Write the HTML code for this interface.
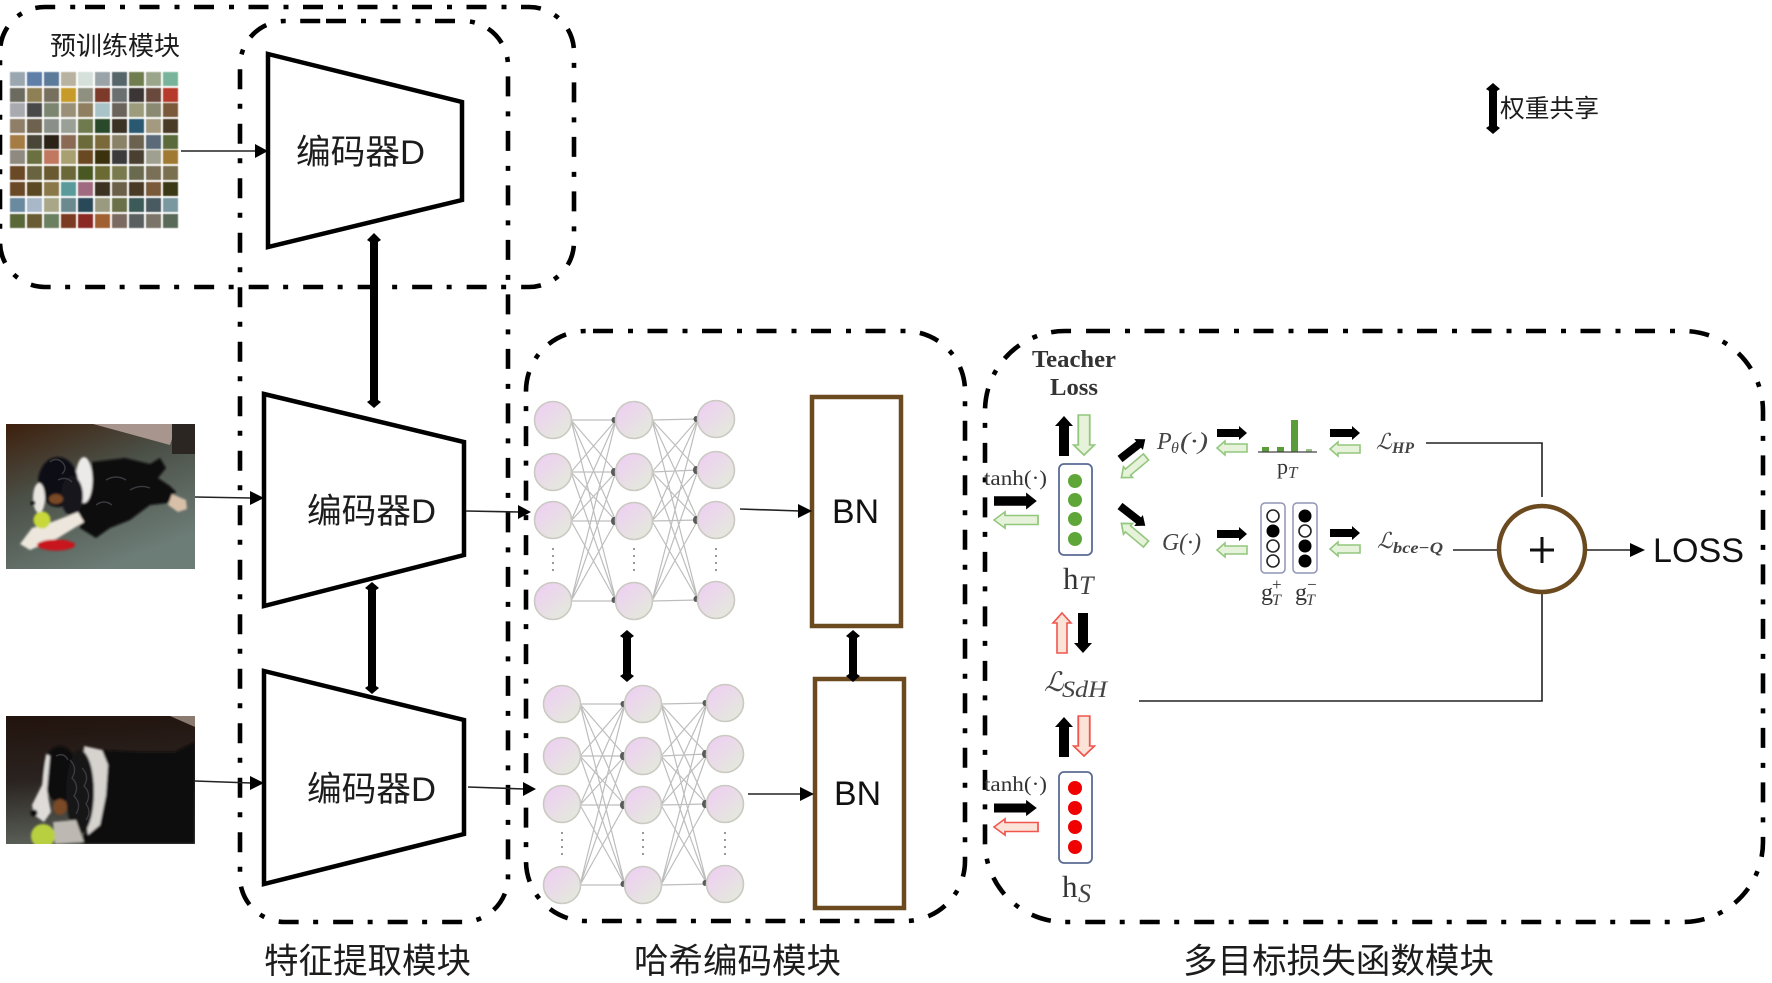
<!DOCTYPE html>
<html><head><meta charset="utf-8"><style>
html,body{margin:0;padding:0;background:#fff;width:1772px;height:983px;overflow:hidden}
svg{display:block}
.cjk{font-family:"Liberation Sans","Noto Sans CJK SC",sans-serif;fill:#1c1c1c}
.lat{font-family:"Liberation Sans",sans-serif;fill:#111}
.ser{font-family:"Liberation Serif","DejaVu Serif",serif;fill:#333}
.it{font-family:"Liberation Serif","DejaVu Serif",serif;font-style:italic;fill:#444}
.box{fill:none;stroke:#000;stroke-width:4.6;stroke-dasharray:20 15 5 14.5}
.enc{fill:#fff;stroke:#000;stroke-width:4.5;stroke-linejoin:miter}
.br{fill:#fff;stroke:#6b4a1f;stroke-width:4.5}
.ln{fill:none;stroke:#222;stroke-width:1.6}
.bk{fill:#000}
.gr{fill:#e6f2da;stroke:#93c77e;stroke-width:1.6}
.rd{fill:#fbe3d8;stroke:#f0564e;stroke-width:1.6}
.nb{fill:none;stroke:#5a6b93;stroke-width:1.8}
.gc{fill:#fff;stroke:#222;stroke-width:1.6}
</style></head><body>
<svg width="1772" height="983" viewBox="0 0 1772 983" xmlns="http://www.w3.org/2000/svg">
<defs>
<linearGradient id="c" x1="0.15" y1="0.1" x2="0.85" y2="0.9"><stop offset="0" stop-color="#eed0f2"/><stop offset="1" stop-color="#e4e9dc"/></linearGradient>
<linearGradient id="d1" x1="0" y1="0" x2="0.5" y2="1"><stop offset="0" stop-color="#3d1f0c"/><stop offset="0.45" stop-color="#4b5047"/><stop offset="1" stop-color="#6c7c76"/></linearGradient>
<linearGradient id="d2" x1="0.1" y1="0" x2="0.2" y2="1"><stop offset="0" stop-color="#22130d"/><stop offset="0.5" stop-color="#2a2320"/><stop offset="1" stop-color="#5a6058"/></linearGradient>
<filter id="b1" x="-5%" y="-5%" width="110%" height="110%"><feGaussianBlur stdDeviation="1"/></filter>
<filter id="b0" x="-2%" y="-2%" width="104%" height="104%"><feGaussianBlur stdDeviation="0.5"/></filter>
<clipPath id="cp1"><rect x="6" y="424" width="189" height="145"/></clipPath>
<clipPath id="cp2"><rect x="6" y="716" width="189" height="128"/></clipPath>
<path id="a40" d="M0 -5H30V-9L40 0L30 9V5H0Z"/>
<path id="a30" d="M0 -4H22V-7L30 0L22 7V4H0Z"/>
<g id="net">
<path d="M571 420L616 420M571 420L616 472M571 420L616 521M571 420L616 601M571 472L616 420M571 472L616 472M571 472L616 521M571 472L616 601M571 521L616 420M571 521L616 472M571 521L616 521M571 521L616 601M571 601L616 420M571 601L616 472M571 601L616 521M571 601L616 601M652 420L698 419M652 420L698 470M652 420L698 520M652 420L698 600M652 472L698 419M652 472L698 470M652 472L698 520M652 472L698 600M652 521L698 419M652 521L698 470M652 521L698 520M652 521L698 600M652 601L698 419M652 601L698 470M652 601L698 520M652 601L698 600" stroke="#bdbdbd" stroke-width="1.2" fill="none"/>
<g fill="#5a5a5a"><ellipse cx="614" cy="420" rx="2.5" ry="3"/><ellipse cx="614" cy="472" rx="3" ry="4"/><ellipse cx="614" cy="521" rx="3" ry="4"/><ellipse cx="614" cy="600" rx="2.5" ry="3"/><ellipse cx="696" cy="419" rx="2.5" ry="3"/><ellipse cx="696" cy="470" rx="3" ry="4"/><ellipse cx="696" cy="520" rx="3" ry="4"/><ellipse cx="696" cy="599" rx="2.5" ry="3"/></g>
<g fill="url(#c)" stroke="#cacac2" stroke-width="1.6">
<circle cx="553" cy="420" r="18.5"/><circle cx="553" cy="472" r="18.5"/><circle cx="553" cy="520" r="18.5"/><circle cx="553" cy="601" r="18.5"/>
<circle cx="634" cy="420" r="18.5"/><circle cx="634" cy="472" r="18.5"/><circle cx="634" cy="521" r="18.5"/><circle cx="634" cy="601" r="18.5"/>
<circle cx="716" cy="419" r="18.5"/><circle cx="716" cy="470" r="18.5"/><circle cx="716" cy="520" r="18.5"/><circle cx="716" cy="600" r="18.5"/>
</g>
<g fill="#999"><rect x="552" y="548" width="2" height="2"/><rect x="552" y="555" width="2" height="2"/><rect x="552" y="562" width="2" height="2"/><rect x="552" y="569" width="2" height="2"/><rect x="633" y="548" width="2" height="2"/><rect x="633" y="555" width="2" height="2"/><rect x="633" y="562" width="2" height="2"/><rect x="633" y="569" width="2" height="2"/><rect x="715" y="548" width="2" height="2"/><rect x="715" y="555" width="2" height="2"/><rect x="715" y="562" width="2" height="2"/><rect x="715" y="569" width="2" height="2"/></g>
</g>
</defs>

<!-- tile grid -->
<g filter="url(#b0)">
<rect x="10" y="72" width="15" height="14" fill="#9aa7b0"/><rect x="27" y="72" width="15" height="14" fill="#5f7fa8"/><rect x="44" y="72" width="15" height="14" fill="#5b7a9a"/><rect x="61" y="72" width="15" height="14" fill="#b8b3a0"/><rect x="78" y="72" width="15" height="14" fill="#d6e0da"/><rect x="95" y="72" width="15" height="14" fill="#9aa3a8"/><rect x="112" y="72" width="15" height="14" fill="#56666a"/><rect x="129" y="72" width="15" height="14" fill="#6f7d4f"/><rect x="146" y="72" width="15" height="14" fill="#9aa58a"/><rect x="163" y="72" width="15" height="14" fill="#78b49a"/>
<rect x="10" y="88" width="15" height="14" fill="#6d6a60"/><rect x="27" y="88" width="15" height="14" fill="#8f7f55"/><rect x="44" y="88" width="15" height="14" fill="#77705f"/><rect x="61" y="88" width="15" height="14" fill="#c69b2a"/><rect x="78" y="88" width="15" height="14" fill="#8f9080"/><rect x="95" y="88" width="15" height="14" fill="#7b3a2c"/><rect x="112" y="88" width="15" height="14" fill="#6b7070"/><rect x="129" y="88" width="15" height="14" fill="#3a3636"/><rect x="146" y="88" width="15" height="14" fill="#6a4a3c"/><rect x="163" y="88" width="15" height="14" fill="#b73a2a"/>
<rect x="10" y="103" width="15" height="14" fill="#a9a9b0"/><rect x="27" y="103" width="15" height="14" fill="#4a4a48"/><rect x="44" y="103" width="15" height="14" fill="#7c8570"/><rect x="61" y="103" width="15" height="14" fill="#9a9078"/><rect x="78" y="103" width="15" height="14" fill="#8f7f60"/><rect x="95" y="103" width="15" height="14" fill="#a8c4c8"/><rect x="112" y="103" width="15" height="14" fill="#6a645c"/><rect x="129" y="103" width="15" height="14" fill="#9c9c7c"/><rect x="146" y="103" width="15" height="14" fill="#8a8a72"/><rect x="163" y="103" width="15" height="14" fill="#7a5a3a"/>
<rect x="10" y="119" width="15" height="14" fill="#8f7f68"/><rect x="27" y="119" width="15" height="14" fill="#6e6250"/><rect x="44" y="119" width="15" height="14" fill="#8a9088"/><rect x="61" y="119" width="15" height="14" fill="#9aa096"/><rect x="78" y="119" width="15" height="14" fill="#6f7a50"/><rect x="95" y="119" width="15" height="14" fill="#2c4a2c"/><rect x="112" y="119" width="15" height="14" fill="#3a3028"/><rect x="129" y="119" width="15" height="14" fill="#2a5870"/><rect x="146" y="119" width="15" height="14" fill="#a49a80"/><rect x="163" y="119" width="15" height="14" fill="#4a3a28"/>
<rect x="10" y="135" width="15" height="14" fill="#a67c45"/><rect x="27" y="135" width="15" height="14" fill="#4a4438"/><rect x="44" y="135" width="15" height="14" fill="#2a2418"/><rect x="61" y="135" width="15" height="14" fill="#8a6a55"/><rect x="78" y="135" width="15" height="14" fill="#6a6a3a"/><rect x="95" y="135" width="15" height="14" fill="#7a6a3a"/><rect x="112" y="135" width="15" height="14" fill="#8a8268"/><rect x="129" y="135" width="15" height="14" fill="#6a6250"/><rect x="146" y="135" width="15" height="14" fill="#5a6a78"/><rect x="163" y="135" width="15" height="14" fill="#5a6a3a"/>
<rect x="10" y="150" width="15" height="14" fill="#8f8a80"/><rect x="27" y="150" width="15" height="14" fill="#6a7040"/><rect x="44" y="150" width="15" height="14" fill="#c07860"/><rect x="61" y="150" width="15" height="14" fill="#a8a070"/><rect x="78" y="150" width="15" height="14" fill="#6a4a20"/><rect x="95" y="150" width="15" height="14" fill="#3a3010"/><rect x="112" y="150" width="15" height="14" fill="#3a3a3a"/><rect x="129" y="150" width="15" height="14" fill="#4a4030"/><rect x="146" y="150" width="15" height="14" fill="#a0a090"/><rect x="163" y="150" width="15" height="14" fill="#a07a30"/>
<rect x="10" y="166" width="15" height="14" fill="#6a4a28"/><rect x="27" y="166" width="15" height="14" fill="#6a6440"/><rect x="44" y="166" width="15" height="14" fill="#6a5a30"/><rect x="61" y="166" width="15" height="14" fill="#6a6838"/><rect x="78" y="166" width="15" height="14" fill="#4a5820"/><rect x="95" y="166" width="15" height="14" fill="#6a6a30"/><rect x="112" y="166" width="15" height="14" fill="#7a7a50"/><rect x="129" y="166" width="15" height="14" fill="#6a6a50"/><rect x="146" y="166" width="15" height="14" fill="#7a7058"/><rect x="163" y="166" width="15" height="14" fill="#7a7050"/>
<rect x="10" y="182" width="15" height="14" fill="#6a4a28"/><rect x="27" y="182" width="15" height="14" fill="#5a4a20"/><rect x="44" y="182" width="15" height="14" fill="#8a7848"/><rect x="61" y="182" width="15" height="14" fill="#5a9a9a"/><rect x="78" y="182" width="15" height="14" fill="#a06a80"/><rect x="95" y="182" width="15" height="14" fill="#3a3020"/><rect x="112" y="182" width="15" height="14" fill="#6a6048"/><rect x="129" y="182" width="15" height="14" fill="#4a3a28"/><rect x="146" y="182" width="15" height="14" fill="#7a5a38"/><rect x="163" y="182" width="15" height="14" fill="#3a3818"/>
<rect x="10" y="198" width="15" height="14" fill="#6a8aa0"/><rect x="27" y="198" width="15" height="14" fill="#a8b8c8"/><rect x="44" y="198" width="15" height="14" fill="#a8a888"/><rect x="61" y="198" width="15" height="14" fill="#6a8a90"/><rect x="78" y="198" width="15" height="14" fill="#2a4a58"/><rect x="95" y="198" width="15" height="14" fill="#9a9a80"/><rect x="112" y="198" width="15" height="14" fill="#6a7048"/><rect x="129" y="198" width="15" height="14" fill="#3a5a58"/><rect x="146" y="198" width="15" height="14" fill="#4a5a60"/><rect x="163" y="198" width="15" height="14" fill="#7a98a0"/>
<rect x="10" y="214" width="15" height="14" fill="#5a6838"/><rect x="27" y="214" width="15" height="14" fill="#6a5c30"/><rect x="44" y="214" width="15" height="14" fill="#6a8060"/><rect x="61" y="214" width="15" height="14" fill="#7a3a20"/><rect x="78" y="214" width="15" height="14" fill="#8a2a20"/><rect x="95" y="214" width="15" height="14" fill="#a06030"/><rect x="112" y="214" width="15" height="14" fill="#7a6a60"/><rect x="129" y="214" width="15" height="14" fill="#5a6060"/><rect x="146" y="214" width="15" height="14" fill="#7a7468"/><rect x="163" y="214" width="15" height="14" fill="#5a6a58"/>
</g>

<!-- dog 1 -->
<g clip-path="url(#cp1)">
<rect x="6" y="424" width="189" height="145" fill="url(#d1)"/>
<polygon points="93,424 170,445 177,424" fill="#a8968e"/>
<rect x="172" y="424" width="23" height="30" fill="#2c2622"/>
<g filter="url(#b1)">
<polygon points="92,462 125,458 150,464 160,458 166,468 158,478 170,486 176,492 168,503 150,505 130,520 110,528 96,538 80,528 76,515 88,495" fill="#0a0a0d"/>
<polygon points="172,494 186,500 187,509 178,512 168,505" fill="#d8c0a8"/>
<ellipse cx="84" cy="480" rx="8.5" ry="23" fill="#eceae8"/>
<ellipse cx="58" cy="482" rx="20" ry="25" fill="#101014"/>
<ellipse cx="72" cy="496" rx="11" ry="20" fill="#18181c"/>
<ellipse cx="39" cy="498" rx="6" ry="15" fill="#e8e4e0"/>
<ellipse cx="56" cy="499" rx="7" ry="5" fill="#7a4a28"/>
<circle cx="33" cy="503" r="2.5" fill="#111"/>
<polygon points="20,544 32,528 52,522 78,512 84,522 58,538 30,550" fill="#ede6dc"/>
<ellipse cx="56" cy="545" rx="19" ry="5.5" fill="#c8141c"/>
<circle cx="42" cy="520" r="8.5" fill="#c8d838"/>
</g>
<path d="M50 462q6 -5 12 0q6 6 0 12M58 480q8 -4 14 2M106 480q10 -6 20 0M130 490q10 -6 20 -2M96 505q8 -6 16 0" fill="none" stroke="#3a3a40" stroke-width="1.4"/>
</g>

<!-- dog 2 -->
<g clip-path="url(#cp2)">
<rect x="6" y="716" width="189" height="128" fill="url(#d2)"/>
<polygon points="170,716 195,716 195,727" fill="#8a7a70"/>
<g filter="url(#b1)">
<polygon points="100,750 140,752 175,752 195,742 195,844 80,844 90,820" fill="#09090b"/>
<polygon points="84,746 102,750 108,765 106,795 100,825 88,835 82,790" fill="#d6d2ce"/>
<ellipse cx="60" cy="774" rx="18" ry="28" fill="#0c0c10"/>
<ellipse cx="80" cy="792" rx="14" ry="42" fill="#131316"/>
<polygon points="46,754 50,756 47,790 51,812 44,822 34,815 32,805 42,785" fill="#dedbd8"/>
<ellipse cx="60" cy="807" rx="7" ry="8" fill="#7a4a28"/>
<circle cx="34" cy="813" r="3.5" fill="#111"/>
<polygon points="53,822 76,820 84,842 55,844" fill="#bdb9b2"/>
<circle cx="43" cy="836" r="12" fill="#b8d040"/>
</g>
<path d="M70 760q8 8 2 18q8 8 2 18q8 8 2 18M82 768q8 8 2 18q8 8 2 18q6 8 0 16M56 756q8 -4 12 4" fill="none" stroke="#3a3a40" stroke-width="1.4"/>
</g>

<!-- dash-dot module frames -->
<path class="box" d="M85 7H529A45 45 0 0 1 574 52V242A45 45 0 0 1 529 287H45A45 45 0 0 1 0 242V52A45 45 0 0 1 45 7Z"/>
<path class="box" d="M326 21H463A45 45 0 0 1 508 66V877A45 45 0 0 1 463 922H285A45 45 0 0 1 240 877V66A45 45 0 0 1 285 21Z"/>
<path class="box" d="M593 331H905A60 60 0 0 1 965 391V861A60 60 0 0 1 905 921H586A60 60 0 0 1 526 861V391A60 60 0 0 1 586 331Z"/>
<path class="box" d="M1090 331H1683A80 80 0 0 1 1763 411V842A80 80 0 0 1 1683 922H1065A80 80 0 0 1 985 842V411A80 80 0 0 1 1065 331Z"/>

<!-- encoders -->
<polygon class="enc" points="268,54 462,102 462,200 268,247"/>
<polygon class="enc" points="264,394 464,442 464,555 264,606"/>
<polygon class="enc" points="264,671 464,720 464,834 264,884"/>

<!-- networks -->
<use href="#net"/>
<use href="#net" transform="translate(9,284)"/>

<!-- BN -->
<rect class="br" x="812" y="397" width="89" height="229"/>
<rect class="br" x="815" y="679" width="89" height="229"/>

<!-- thin connectors -->
<g class="ln">
<path d="M181 151H256"/><path d="M195 497L251 498"/><path d="M195 781L251 783"/>
<path d="M466 511L520 512"/><path d="M468 787L524 789"/>
<path d="M740 509L800 511"/><path d="M748 794H802"/>
<path d="M1426 443H1542V497"/><path d="M1453 550H1498"/><path d="M1587 550H1634"/>
<path d="M1139 701H1542V594"/>
</g>
<g fill="#000">
<polygon points="255,144 268,151 255,158"/>
<polygon points="250,491 264,498 250,505"/>
<polygon points="250,776 264,783 250,790"/>
<polygon points="518,505 531,512 518,519"/>
<polygon points="523,782 536,789 523,796"/>
<polygon points="798,504 812,511 798,518"/>
<polygon points="800,787 814,794 800,801"/>
<polygon points="1630,543 1645,550 1630,557"/>
</g>

<!-- double arrows -->
<g fill="#000">
<polygon points="374,233 381,240 378,242 378,400 381,402 374,408 367,402 370,400 370,242 367,240"/>
<polygon points="372,582 379,588 376,590 376,686 379,688 372,694 365,688 368,686 368,590 365,588"/>
<polygon points="627,630 634,636 631,638 631,674 634,676 627,682 620,676 623,674 623,638 620,636"/>
<polygon points="853,630 860,636 857,638 857,674 860,676 853,682 846,676 849,674 849,638 846,636"/>
<polygon points="1493,83 1500,89 1497,91 1497,126 1500,128 1493,134 1486,128 1489,126 1489,91 1486,89"/>
</g>

<!-- plus circle -->
<circle cx="1542" cy="549" r="43" class="br"/>
<path d="M1542 537V563M1530 550H1554" stroke="#111" stroke-width="3" fill="none"/>

<!-- teacher/student blocks -->
<rect class="nb" x="1059" y="464" width="33" height="91" rx="5"/>
<g fill="#5fa639"><circle cx="1075" cy="481" r="7"/><circle cx="1075" cy="500" r="7"/><circle cx="1075" cy="519" r="7"/><circle cx="1075" cy="539" r="7"/></g>
<rect class="nb" x="1059" y="772" width="33" height="91" rx="5"/>
<g fill="#f00000"><circle cx="1075" cy="788" r="7"/><circle cx="1075" cy="808" r="7"/><circle cx="1075" cy="827" r="7"/><circle cx="1075" cy="847" r="7"/></g>

<!-- fat arrows -->
<use href="#a40" class="bk" transform="translate(1064,456) rotate(-90)"/>
<use href="#a40" class="gr" transform="translate(1084,415) rotate(90) scale(1,1.15)"/>
<use href="#a40" class="bk" transform="translate(994,501) scale(1.07,0.95)"/>
<use href="#a40" class="gr" transform="translate(1038,520) rotate(180) scale(1.1,0.9)"/>
<use href="#a40" class="rd" transform="translate(1062,653) rotate(-90)"/>
<use href="#a40" class="bk" transform="translate(1083,613) rotate(90)"/>
<use href="#a40" class="bk" transform="translate(1064,757) rotate(-90)"/>
<use href="#a40" class="rd" transform="translate(1084,716) rotate(90) scale(1,1.15)"/>
<use href="#a40" class="bk" transform="translate(994,808) scale(1.07,0.9)"/>
<use href="#a40" class="rd" transform="translate(1038,827) rotate(180) scale(1.1,0.9)"/>
<use href="#a30" class="bk" transform="translate(1120,459) rotate(-38) scale(1.07,1)"/>
<use href="#a30" class="gr" transform="translate(1146,457) rotate(140) scale(1.07,1)"/>
<use href="#a30" class="bk" transform="translate(1120,506) rotate(38) scale(1.07,1)"/>
<use href="#a30" class="gr" transform="translate(1146,544) rotate(-140) scale(1.07,1)"/>
<use href="#a30" class="bk" transform="translate(1217,433)"/>
<use href="#a30" class="gr" transform="translate(1247,448) rotate(180)"/>
<use href="#a30" class="bk" transform="translate(1217,534)"/>
<use href="#a30" class="gr" transform="translate(1247,550) rotate(180)"/>
<use href="#a30" class="bk" transform="translate(1330,433)"/>
<use href="#a30" class="gr" transform="translate(1360,449) rotate(180)"/>
<use href="#a30" class="bk" transform="translate(1330,533)"/>
<use href="#a30" class="gr" transform="translate(1360,549) rotate(180)"/>

<!-- histogram -->
<g fill="#5a9c3a"><rect x="1262" y="447" width="7" height="5"/><rect x="1277" y="447" width="7" height="5"/><rect x="1291" y="420" width="7" height="32"/><rect x="1306" y="449" width="6" height="3" fill="#9cc08a"/></g>
<path d="M1258 452H1317" stroke="#444" stroke-width="1.3"/>

<!-- code boxes -->
<rect x="1261" y="503" width="24" height="70" rx="4" fill="none" stroke="#8f96b5" stroke-width="1.5"/>
<rect x="1293" y="503" width="24" height="70" rx="4" fill="none" stroke="#8f96b5" stroke-width="1.5"/>
<circle class="gc" cx="1273" cy="516" r="6"/><circle cx="1273" cy="531" r="6.5"/><circle class="gc" cx="1273" cy="546" r="6"/><circle class="gc" cx="1273" cy="561" r="6"/>
<circle cx="1305" cy="516" r="6.5"/><circle class="gc" cx="1305" cy="531" r="6"/><circle cx="1305" cy="546" r="6.5"/><circle cx="1305" cy="561" r="6.5"/>

<!-- text -->
<text class="cjk" x="50" y="55" font-size="26" textLength="130" lengthAdjust="spacingAndGlyphs">预训练模块</text>
<text class="cjk" x="296" y="164" font-size="34.5" textLength="129" lengthAdjust="spacingAndGlyphs">编码器D</text>
<text class="cjk" x="307" y="523" font-size="34.5" textLength="129" lengthAdjust="spacingAndGlyphs">编码器D</text>
<text class="cjk" x="307" y="801" font-size="34.5" textLength="129" lengthAdjust="spacingAndGlyphs">编码器D</text>
<text class="cjk" x="1500" y="117" font-size="25" textLength="99" lengthAdjust="spacingAndGlyphs">权重共享</text>
<text class="cjk" x="264" y="973" font-size="34.5" textLength="207" lengthAdjust="spacingAndGlyphs">特征提取模块</text>
<text class="cjk" x="634" y="973" font-size="34.5" textLength="207" lengthAdjust="spacingAndGlyphs">哈希编码模块</text>
<text class="cjk" x="1183" y="973" font-size="34.5" textLength="311" lengthAdjust="spacingAndGlyphs">多目标损失函数模块</text>
<text class="lat" x="832" y="523" font-size="34" textLength="47" lengthAdjust="spacingAndGlyphs">BN</text>
<text class="lat" x="834" y="805" font-size="34" textLength="47" lengthAdjust="spacingAndGlyphs">BN</text>
<text class="lat" x="1653" y="562" font-size="34.5" textLength="91" lengthAdjust="spacingAndGlyphs">LOSS</text>

<text class="ser" x="1032" y="367" font-size="24" font-weight="bold" textLength="84" lengthAdjust="spacingAndGlyphs" fill="#444">Teacher</text>
<text class="ser" x="1050" y="395" font-size="24" font-weight="bold" textLength="48" lengthAdjust="spacingAndGlyphs" fill="#444">Loss</text>
<text class="ser" x="984" y="485" font-size="21" textLength="63" lengthAdjust="spacingAndGlyphs">tanh(·)</text>
<text class="ser" x="984" y="791" font-size="21" textLength="63" lengthAdjust="spacingAndGlyphs">tanh(·)</text>
<text class="ser" x="1063" y="589" font-size="31">h</text><text class="it" x="1079" y="594" font-size="26">T</text>
<text class="ser" x="1062" y="897" font-size="31">h</text><text class="it" x="1078" y="902" font-size="26">S</text>
<text class="it" x="1157" y="449" font-size="24">P</text><text class="it" x="1171" y="453" font-size="16">θ</text><text class="it" x="1180" y="449" font-size="24" textLength="28" lengthAdjust="spacingAndGlyphs">(·)</text>
<text class="it" x="1162" y="550" font-size="24" textLength="39" lengthAdjust="spacingAndGlyphs">G(·)</text>
<text class="ser" x="1277" y="474" font-size="22">p</text><text class="it" x="1288" y="478" font-size="17">T</text>
<text class="ser" x="1261" y="600" font-size="24">g</text><text class="it" x="1272" y="605" font-size="16">T</text><text class="ser" x="1272" y="590" font-size="17">+</text>
<text class="ser" x="1295" y="600" font-size="24">g</text><text class="it" x="1306" y="605" font-size="16">T</text><text class="ser" x="1307" y="590" font-size="17">−</text>
<text class="it" x="1044" y="691" font-size="27" style="font-family:'DejaVu Serif','Liberation Serif',serif">ℒ</text><text class="it" x="1062" y="697" font-size="23" textLength="45" lengthAdjust="spacingAndGlyphs">SdH</text>
<text class="it" x="1376" y="449" font-size="22" style="font-family:'DejaVu Serif','Liberation Serif',serif">ℒ</text><text class="it" x="1392" y="453" font-size="16" textLength="22" lengthAdjust="spacingAndGlyphs" font-weight="bold">HP</text>
<text class="it" x="1377" y="548" font-size="22" style="font-family:'DejaVu Serif','Liberation Serif',serif">ℒ</text><text class="it" x="1393" y="553" font-size="16" textLength="50" lengthAdjust="spacingAndGlyphs" font-weight="bold">bce−Q</text>
</svg>
</body></html>
